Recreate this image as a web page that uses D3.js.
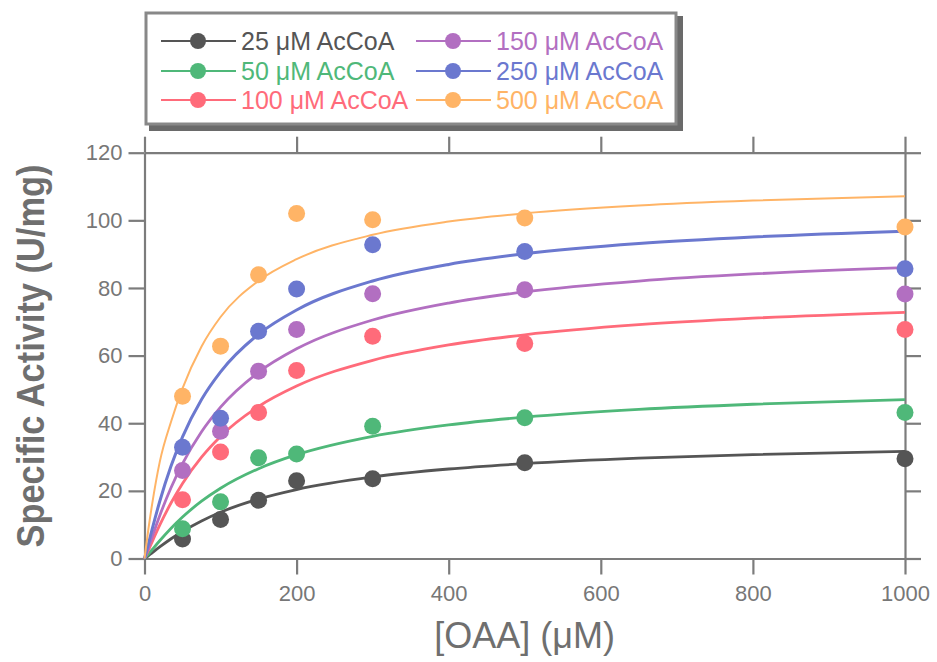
<!DOCTYPE html>
<html>
<head>
<meta charset="utf-8">
<script src="https://cdn.jsdelivr.net/npm/d3@7"></script>
<style>
  html, body { margin: 0; padding: 0; background: #fff; }
  svg { display: block; }
  text { font-family: "Liberation Sans", Arial, sans-serif; }
</style>
</head>
<body>
<svg id="chart" width="937" height="662"></svg>
<script>
// Measured specific activity at each OAA concentration
const oaa = [50, 100, 150, 200, 300, 500, 1000];
const ac25  = [5.8, 11.5, 17.2, 23.0, 23.6, 28.3, 29.5];
const ac50  = [8.8, 16.8, 29.8, 30.9, 39.1, 41.6, 43.2];
const ac100 = [17.4, 31.5, 43.2, 55.6, 65.7, 63.6, 67.7];
const ac150 = [26.0, 37.6, 55.4, 67.7, 78.3, 79.5, 78.2];
const ac250 = [32.9, 41.5, 67.2, 79.7, 92.8, 90.8, 85.7];
const ac500 = [48.0, 62.8, 83.9, 102.0, 100.2, 100.7, 98.0];

// Fitted saturation curves, sampled along OAA
const fitX   = [0, 5, 10, 20, 35, 50, 75, 100, 150, 200, 300, 400, 500, 650, 800, 1000];
const fit25  = [0, 0.80, 1.68, 3.41, 5.84, 8.01, 11.12, 13.68, 17.59, 20.40, 24.13, 26.47, 28.05, 29.66, 30.73, 31.70];
const fit50  = [0, 1.24, 2.59, 5.25, 8.96, 12.26, 16.94, 20.77, 26.56, 30.70, 36.14, 39.51, 41.79, 44.09, 45.62, 47.00];
const fit100 = [0, 2.37, 4.91, 9.84, 16.48, 22.20, 29.98, 36.10, 44.96, 51.00, 58.61, 63.16, 66.16, 69.13, 71.07, 72.80];
const fit150 = [0, 3.08, 6.36, 12.66, 21.00, 28.06, 37.50, 44.78, 55.10, 62.00, 70.53, 75.55, 78.84, 82.05, 84.14, 86.00];
const fit250 = [0, 4.20, 8.61, 16.85, 27.40, 35.97, 47.02, 55.19, 66.34, 73.50, 82.06, 86.96, 90.10, 93.13, 95.08, 96.80];
const fit500 = [0, 8.50, 16.00, 28.50, 40.50, 50.30, 62.70, 71.41, 82.10, 88.50, 95.71, 99.63, 102.07, 104.37, 105.83, 107.10];

const seriesLabels = ["25", "50", "100", "150", "250", "500"];
const xTicks = [0, 200, 400, 600, 800, 1000];
const yTicks = [0, 20, 40, 60, 80, 100, 120];

const series = [
  { label: seriesLabels[0], pts: ac25,  fit: fit25,  color: "#555555", width: 2.8 },
  { label: seriesLabels[1], pts: ac50,  fit: fit50,  color: "#4fb879", width: 2.8 },
  { label: seriesLabels[2], pts: ac100, fit: fit100, color: "#ff6b7a", width: 2.8 },
  { label: seriesLabels[3], pts: ac150, fit: fit150, color: "#b26fc1", width: 2.8 },
  { label: seriesLabels[4], pts: ac250, fit: fit250, color: "#6b78cf", width: 3.0 },
  { label: seriesLabels[5], pts: ac500, fit: fit500, color: "#ffb466", width: 2.0 }
];

const svg = d3.select("#chart");
const axisColor = "#7c7c7c";
const textColor = "#777777";

const x = d3.scaleLinear().domain([0, 1000]).range([144.5, 905]);
const y = d3.scaleLinear().domain([0, 120]).range([558.5, 152.7]);

// Frame: four axes with outward ticks
function styleAxis(g) {
  g.select(".domain").attr("stroke", axisColor).attr("stroke-width", 2.2);
  g.selectAll(".tick line").attr("stroke", axisColor).attr("stroke-width", 2.2);
  g.selectAll(".tick text").attr("fill", textColor)
    .style("font-size", "22px");
}

const fmt = d3.format("d");
svg.append("g").attr("transform", `translate(0,${y(0)})`)
  .call(d3.axisBottom(x).tickValues(xTicks).tickFormat(fmt).tickSize(16).tickSizeOuter(0).tickPadding(11))
  .call(styleAxis);
svg.append("g").attr("transform", `translate(0,${y(120)})`)
  .call(d3.axisTop(x).tickValues(xTicks).tickSize(16).tickSizeOuter(0).tickFormat(""))
  .call(styleAxis);
svg.append("g").attr("transform", `translate(${x(0)},0)`)
  .call(d3.axisLeft(y).tickValues(yTicks).tickFormat(fmt).tickSize(16).tickSizeOuter(0).tickPadding(6))
  .call(styleAxis);
svg.append("g").attr("transform", `translate(${x(1000)},0)`)
  .call(d3.axisRight(y).tickValues(yTicks).tickSize(16).tickSizeOuter(0).tickFormat(""))
  .call(styleAxis);

// Axis titles
svg.append("text")
  .attr("transform", `translate(44,356) rotate(-90)`)
  .attr("text-anchor", "middle")
  .attr("fill", "#6f6f6f")
  .attr("textLength", 383)
  .attr("lengthAdjust", "spacingAndGlyphs")
  .style("font-size", "38px")
  .style("font-weight", "bold")
  .text("Specific Activity (U/mg)");

svg.append("text")
  .attr("x", 524.5)
  .attr("y", 648)
  .attr("text-anchor", "middle")
  .attr("fill", "#6f6f6f")
  .style("font-size", "36px")
  .text("[OAA] (\u03BCM)");

// Fitted curves and measured points
const line = d3.line()
  .x((d, i) => x(fitX[i]))
  .y(d => y(d))
  .curve(d3.curveMonotoneX);

const plot = svg.append("g");
series.forEach(s => {
  plot.append("path")
    .attr("d", line(s.fit))
    .attr("fill", "none")
    .attr("stroke", s.color)
    .attr("stroke-width", s.width)
    .attr("stroke-linejoin", "round");
});
series.forEach(s => {
  plot.selectAll(null)
    .data(s.pts)
    .enter().append("circle")
    .attr("cx", (d, i) => x(oaa[i]))
    .attr("cy", d => y(d))
    .attr("r", 8.5)
    .attr("fill", s.color);
});

// Legend box with drop shadow
const lg = svg.append("g");
lg.append("rect").attr("x", 149).attr("y", 16).attr("width", 534).attr("height", 115)
  .attr("fill", "#6a6a6a");
lg.append("rect").attr("x", 146).attr("y", 13).attr("width", 530).attr("height", 111)
  .attr("fill", "#fff").attr("stroke", "#888").attr("stroke-width", 3);

const cols = [161, 416];
const rows = [41, 71, 100];
series.forEach((s, i) => {
  const cx = cols[Math.floor(i / 3)];
  const cy = rows[i % 3];
  lg.append("line").attr("x1", cx).attr("x2", cx + 75).attr("y1", cy).attr("y2", cy)
    .attr("stroke", s.color).attr("stroke-width", 2.2);
  lg.append("circle").attr("cx", cx + 37).attr("cy", cy).attr("r", 8).attr("fill", s.color);
  lg.append("text").attr("x", cx + 80).attr("y", cy + 9)
    .attr("fill", s.color)
    .style("font-size", "25px")
    .text(`${s.label} \u03BCM AcCoA`);
});
</script>
</body>
</html>
